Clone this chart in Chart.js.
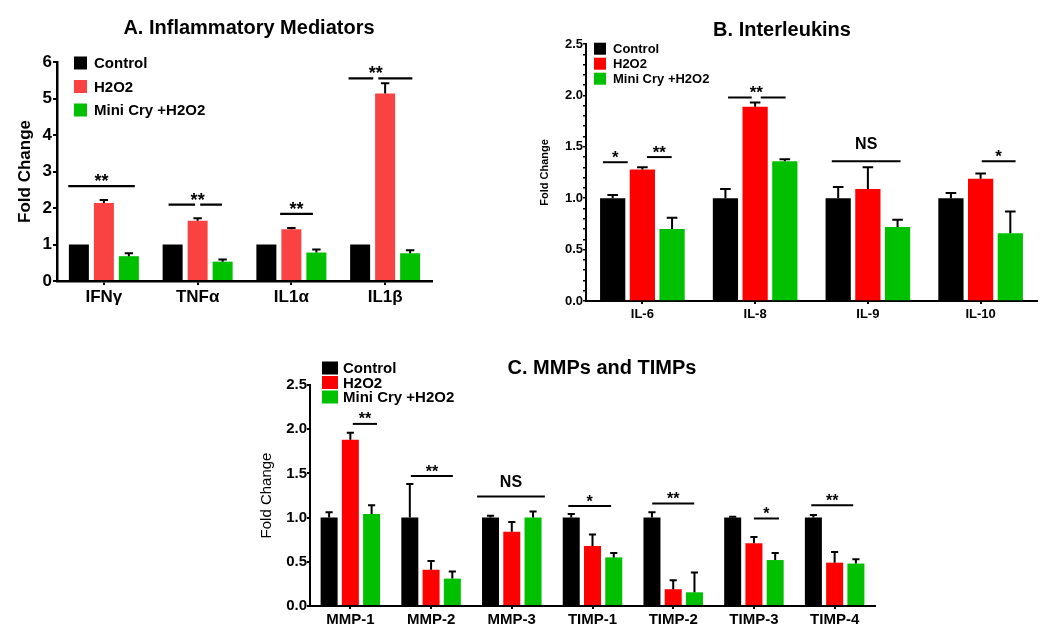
<!DOCTYPE html>
<html><head><meta charset="utf-8">
<script src="https://cdn.jsdelivr.net/npm/chart.js@4.4.1/dist/chart.umd.min.js"></script>
<style>
html,body{margin:0;padding:0;background:#fff;}
body{width:1050px;height:641px;position:relative;overflow:hidden;}
.p{position:absolute;}
canvas{display:block;}
</style></head><body>
<div class="p" style="left:0;top:0;"><canvas id="cA" width="498" height="330"></canvas></div>
<div class="p" style="left:514px;top:0;"><canvas id="cB" width="536" height="330"></canvas></div>
<div class="p" style="left:240px;top:340px;"><canvas id="cC" width="724" height="301"></canvas></div>
<script>
const FONT = '"Liberation Sans", Arial, Helvetica, sans-serif';
Chart.defaults.font.family = FONT;
Chart.defaults.color = '#000';

const seriesNames = ['Control', 'H2O2', 'Mini Cry +H2O2'];

// ---------- Panel A ----------
const catsA = ['IFNγ', 'TNFα', 'IL1α', 'IL1β'];
const yTicksA = [0, 1, 2, 3, 4, 5, 6];
const yLabelsA = ['0', '1', '2', '3', '4', '5', '6'];
const ctrlA = [1.0, 1.0, 1.0, 1.0];
const ctrlErrA = [0, 0, 0, 0];
const h2o2A = [2.14, 1.65, 1.42, 5.14];
const h2o2ErrA = [0.08, 0.07, 0.03, 0.28];
const miniA = [0.68, 0.53, 0.78, 0.76];
const miniErrA = [0.08, 0.06, 0.08, 0.08];
const sigA = [
  {cat: 0, from: -0.38, to: 0.33, y: 2.6, text: '**'},
  {cat: 1, from: -0.31, to: 0.26, gapAt: 0, gapW: 0.055, y: 2.09, text: '**'},
  {cat: 2, from: -0.12, to: 0.23, y: 1.84, text: '**'},
  {cat: 3, from: -0.39, to: 0.29, gapAt: -0.1, gapW: 0.055, y: 5.55, text: '**'}
];

// ---------- Panel B ----------
const catsB = ['IL-6', 'IL-8', 'IL-9', 'IL-10'];
const yTicksB = [0, 0.5, 1.0, 1.5, 2.0, 2.5];
const yLabelsB = ['0.0', '0.5', '1.0', '1.5', '2.0', '2.5'];
const ctrlB = [1.0, 1.0, 1.0, 1.0];
const ctrlErrB = [0.03, 0.09, 0.11, 0.05];
const h2o2B = [1.28, 1.89, 1.09, 1.19];
const h2o2ErrB = [0.02, 0.04, 0.21, 0.05];
const miniB = [0.70, 1.36, 0.72, 0.66];
const miniErrB = [0.11, 0.02, 0.07, 0.21];
const sigB = [
  {cat: 0, from: -0.35, to: -0.13, y: 1.35, text: '*'},
  {cat: 0, from: 0.04, to: 0.26, y: 1.40, text: '**'},
  {cat: 1, from: -0.24, to: 0.27, gapAt: 0.01, gapW: 0.08, y: 1.98, text: '**'},
  {cat: 2, from: -0.32, to: 0.29, y: 1.36, text: 'NS'},
  {cat: 3, from: 0.01, to: 0.31, y: 1.36, text: '*'}
];

// ---------- Panel C ----------
const catsC = ['MMP-1', 'MMP-2', 'MMP-3', 'TIMP-1', 'TIMP-2', 'TIMP-3', 'TIMP-4'];
const yTicksC = [0, 0.5, 1.0, 1.5, 2.0, 2.5];
const yLabelsC = ['0.0', '0.5', '1.0', '1.5', '2.0', '2.5'];
const ctrlC = [1.0, 1.0, 1.0, 1.0, 1.0, 1.0, 1.0];
const ctrlErrC = [0.06, 0.38, 0.02, 0.04, 0.06, 0.01, 0.03];
const h2o2C = [1.88, 0.41, 0.84, 0.68, 0.19, 0.71, 0.49];
const h2o2ErrC = [0.08, 0.10, 0.11, 0.13, 0.10, 0.07, 0.12];
const miniC = [1.04, 0.31, 1.00, 0.55, 0.155, 0.52, 0.48];
const miniErrC = [0.10, 0.08, 0.07, 0.05, 0.225, 0.08, 0.05];
const sigC = [
  {cat: 0, from: 0.03, to: 0.33, y: 2.06, text: '**'},
  {cat: 1, from: -0.25, to: 0.27, y: 1.47, text: '**'},
  {cat: 2, from: -0.43, to: 0.41, y: 1.24, text: 'NS'},
  {cat: 3, from: -0.30, to: 0.23, y: 1.13, text: '*'},
  {cat: 4, from: -0.26, to: 0.26, y: 1.16, text: '**'},
  {cat: 5, from: 0.00, to: 0.31, y: 0.99, text: '*'},
  {cat: 6, from: -0.29, to: 0.23, y: 1.14, text: '**'}
];

// ---------- plugins ----------
const errorBars = {
  id: 'errorBars',
  afterDatasetsDraw(chart, args, o) {
    const ctx = chart.ctx, ys = chart.scales.y;
    ctx.save();
    ctx.strokeStyle = '#000';
    ctx.lineWidth = o.lineWidth;
    chart.data.datasets.forEach((ds, i) => {
      const meta = chart.getDatasetMeta(i);
      meta.data.forEach((bar, j) => {
        const e = ds.errors ? ds.errors[j] : 0;
        if (!e) return;
        const v = ds.data[j];
        const y0 = ys.getPixelForValue(v), y1 = ys.getPixelForValue(v + e);
        const half = bar.width * o.cap / 2;
        ctx.beginPath();
        ctx.moveTo(bar.x, y0); ctx.lineTo(bar.x, y1);
        ctx.moveTo(bar.x - half, y1); ctx.lineTo(bar.x + half, y1);
        ctx.stroke();
      });
    });
    ctx.restore();
  }
};

const sigMarks = {
  id: 'sigMarks',
  afterDraw(chart, args, o) {
    const ctx = chart.ctx, xs = chart.scales.x, ys = chart.scales.y;
    const cw = xs.width / chart.data.labels.length;
    ctx.save();
    ctx.strokeStyle = '#000'; ctx.fillStyle = '#000'; ctx.lineWidth = o.lineWidth;
    o.items.forEach(it => {
      const c = xs.getPixelForValue(it.cat);
      const xa = c + it.from * cw, xb = c + it.to * cw, y = ys.getPixelForValue(it.y);
      let tx = (xa + xb) / 2;
      ctx.beginPath();
      if (it.gapAt !== undefined) {
        const g0 = c + (it.gapAt - it.gapW / 2) * cw, g1 = c + (it.gapAt + it.gapW / 2) * cw;
        ctx.moveTo(xa, y); ctx.lineTo(g0, y); ctx.moveTo(g1, y); ctx.lineTo(xb, y);
        tx = (g0 + g1) / 2;
      } else {
        ctx.moveTo(xa, y); ctx.lineTo(xb, y);
      }
      ctx.stroke();
      ctx.textAlign = 'center'; ctx.textBaseline = 'alphabetic';
      if (it.text === 'NS') {
        ctx.font = 'bold ' + o.nsSize + 'px ' + FONT;
        ctx.fillText('NS', tx, y - o.nsLift);
      } else {
        ctx.font = 'bold ' + o.starSize + 'px ' + FONT;
        ctx.fillText(it.text, tx, y - o.starLift + 0.5 * o.starSize);
      }
    });
    ctx.restore();
  }
};

const boxLegend = {
  id: 'boxLegend',
  afterDraw(chart, args, o) {
    const ctx = chart.ctx, ca = chart.chartArea;
    ctx.save();
    ctx.font = 'bold ' + o.size + 'px ' + FONT;
    ctx.textBaseline = 'middle'; ctx.textAlign = 'left';
    chart.data.datasets.forEach((ds, i) => {
      const cy = ca.top + o.dy + i * o.rowH;
      ctx.fillStyle = ds.backgroundColor;
      ctx.fillRect(ca.left + o.dx, cy - o.bh / 2, o.bw, o.bh);
      ctx.fillStyle = '#000';
      ctx.fillText(ds.label, ca.left + o.tx, cy + 1);
    });
    ctx.restore();
  }
};

const panelTitle = {
  id: 'panelTitle',
  afterDraw(chart, args, o) {
    const ctx = chart.ctx;
    ctx.save();
    ctx.font = 'bold ' + o.size + 'px ' + FONT;
    ctx.fillStyle = '#000'; ctx.textAlign = 'center'; ctx.textBaseline = 'middle';
    ctx.fillText(o.text, chart.width / 2, o.y);
    ctx.restore();
  }
};

function labelFor(ticks, labels) {
  return v => {
    const k = ticks.findIndex(t => Math.abs(t - v) < 1e-9);
    return k >= 0 ? labels[k] : '';
  };
}

function makeChart(id, cfg) {
  return new Chart(document.getElementById(id), {
    type: 'bar',
    data: {
      labels: cfg.cats,
      datasets: cfg.series.map((s, i) => ({
        label: seriesNames[i], data: s[0], errors: s[1], backgroundColor: cfg.colors[i],
        categoryPercentage: cfg.cp, barPercentage: cfg.bp, borderWidth: 0
      }))
    },
    options: {
      responsive: false, animation: false, devicePixelRatio: 1,
      layout: {padding: cfg.pad},
      plugins: {
        legend: {display: false}, tooltip: {enabled: false}, title: {display: false},
        panelTitle: cfg.title, boxLegend: cfg.legend, sigMarks: cfg.sig,
        errorBars: {cap: 0.42, lineWidth: 2}
      },
      scales: {
        x: {
          type: 'category', offset: true,
          grid: {display: true, drawOnChartArea: false, offset: false, drawTicks: true,
                 tickLength: cfg.xTickLen, color: '#000', lineWidth: 2},
          border: {display: true, color: '#000', width: cfg.axisW},
          ticks: {font: {size: cfg.xFont, weight: 'bold'}, color: '#000', padding: cfg.xPad,
                  maxRotation: 0, minRotation: 0, autoSkip: false},
          afterFit: s => { s.height = cfg.xH; }
        },
        y: {
          min: cfg.yMin, max: cfg.yMax,
          afterBuildTicks: s => { s.ticks = cfg.yTickValues.map(v => ({value: v})); },
          grid: {display: true, drawOnChartArea: false, drawTicks: true, tickLength: cfg.yTickLen,
                 color: '#000', lineWidth: cfg.yTickW},
          border: {display: true, color: '#000', width: cfg.axisW},
          ticks: {font: {size: cfg.yFont, weight: 'bold'}, color: '#000', padding: cfg.yPad,
                  autoSkip: false, callback: labelFor(cfg.yTicks, cfg.yLabels)},
          title: {display: true, text: 'Fold Change', color: '#000',
                  font: {size: cfg.yTitleSize, weight: cfg.yTitleWeight},
                  padding: {top: cfg.yTitlePad, bottom: 0}},
          afterFit: s => { s.width = cfg.yW; }
        }
      }
    },
    plugins: [errorBars, sigMarks, boxLegend, panelTitle]
  });
}

// minor tick values for panel B (every 0.1)
const minorB = [];
for (let k = 0; k <= 25; k++) minorB.push(k / 10);

makeChart('cA', {
  cats: catsA,
  series: [[ctrlA, ctrlErrA], [h2o2A, h2o2ErrA], [miniA, miniErrA]],
  colors: ['#000000', '#F94343', '#00C000'],
  cp: 0.8, bp: 0.8,
  pad: {top: 62, right: 66, bottom: 9, left: 0},
  yW: 57, xH: 40, axisW: 2.5,
  xTickLen: 4, xFont: 17, xPad: 2,
  yMin: 0, yMax: 6, yTicks: yTicksA, yLabels: yLabelsA, yTickValues: yTicksA,
  yTickLen: 4, yTickW: 2, yFont: 17, yPad: 1,
  yTitleSize: 17, yTitleWeight: 'bold', yTitlePad: 14.8,
  title: {text: 'A. Inflammatory Mediators', size: 20, y: 28.5},
  legend: {dx: 17, dy: 1, rowH: 23.5, bw: 13, bh: 13, tx: 37, size: 15},
  sig: {items: sigA, lineWidth: 2.2, starSize: 18, starLift: 8, nsSize: 16, nsLift: 10}
});

makeChart('cB', {
  cats: catsB,
  series: [[ctrlB, ctrlErrB], [h2o2B, h2o2ErrB], [miniB, miniErrB]],
  colors: ['#000000', '#FF0000', '#00C000'],
  cp: 0.79, bp: 0.85,
  pad: {top: 44, right: 13, bottom: 0, left: 0},
  yW: 72, xH: 29, axisW: 2,
  xTickLen: 3, xFont: 13, xPad: 3,
  yMin: 0, yMax: 2.5, yTicks: yTicksB, yLabels: yLabelsB, yTickValues: minorB,
  yTickLen: 3, yTickW: 1.5, yFont: 13, yPad: 0,
  yTitleSize: 11, yTitleWeight: 'bold', yTitlePad: 24.4,
  title: {text: 'B. Interleukins', size: 20, y: 30},
  legend: {dx: 8, dy: 4.7, rowH: 15, bw: 12, bh: 12, tx: 27, size: 13},
  sig: {items: sigB, lineWidth: 2, starSize: 17, starLift: 8, nsSize: 16, nsLift: 12}
});

makeChart('cC', {
  cats: catsC,
  series: [[ctrlC, ctrlErrC], [h2o2C, h2o2ErrC], [miniC, miniErrC]],
  colors: ['#000000', '#FF0000', '#00C000'],
  cp: 0.79, bp: 0.8,
  pad: {top: 45, right: 89, bottom: 0, left: 0},
  yW: 70, xH: 35, axisW: 2,
  xTickLen: 3, xFont: 15, xPad: 1.5,
  yMin: 0, yMax: 2.5, yTicks: yTicksC, yLabels: yLabelsC, yTickValues: yTicksC,
  yTickLen: 3, yTickW: 2, yFont: 15, yPad: 0,
  yTitleSize: 15, yTitleWeight: 'normal', yTitlePad: 17.5,
  title: {text: 'C. MMPs and TIMPs', size: 20, y: 28},
  legend: {dx: 12, dy: -17, rowH: 14.5, bw: 16, bh: 13, tx: 33, size: 15},
  sig: {items: sigC, lineWidth: 2, starSize: 16, starLift: 7.5, nsSize: 16, nsLift: 9}
});
</script>
</body></html>
